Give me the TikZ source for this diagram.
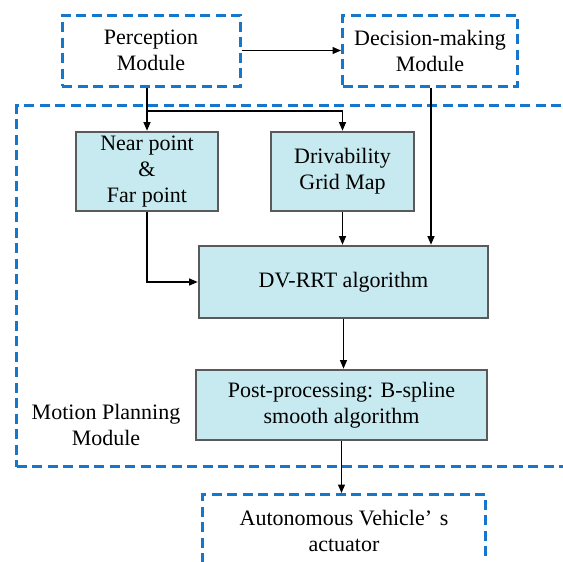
\documentclass[tikz,border=0pt]{standalone}
\usepackage{fontspec}
\setmainfont{Liberation Serif}
\usetikzlibrary{arrows.meta}
\definecolor{dashblue}{RGB}{22,118,204}
\definecolor{boxfill}{RGB}{199,234,240}
\definecolor{boxedge}{RGB}{90,90,90}
\begin{document}
\begin{tikzpicture}[x=1pt,y=-1pt,
  font=\fontsize{22}{26}\selectfont,
  procbox/.style={draw=boxedge, line width=2.7pt, fill=boxfill, align=center, inner sep=0pt},
  extbox/.style={draw=dashblue, line width=3pt, dash pattern=on 10pt off 5.5pt, align=center, inner sep=0pt},
  arr/.style={draw=black, line width=1.1pt, -{Triangle[length=8.5pt,width=7pt]}},
  link/.style={draw=black, line width=1.1pt}]
\useasboundingbox (0,0) rectangle (563,562);

% outer module frames (dashed)
\node[extbox, minimum width=178pt, minimum height=71pt] (perception) at (151,50.5) {Perception\\Module};
\node[extbox, minimum width=175pt, minimum height=71pt] (decision) at (430,50.5) {Decision-making\\Module};
\node[extbox, minimum width=580pt, minimum height=361pt, anchor=north west] (motion) at (15,104) {};
\node[extbox, minimum width=283pt, minimum height=73pt, anchor=north west] (actuator) at (201,493)
  {Autonomous Vehicle’\hspace{0.35em}s\\actuator};

% planning blocks
\node[procbox, minimum width=142pt, minimum height=79pt] (near) at (147,171.5) {Near point\\\&\\Far point};
\node[procbox, minimum width=143pt, minimum height=79pt] (drivability) at (342.5,171.5) {Drivability\\Grid Map};
\node[procbox, minimum width=289pt, minimum height=72pt] (dvrrt) at (343.5,282) {DV-RRT algorithm};
\node[procbox, minimum width=291pt, minimum height=70pt] (post) at (341.5,405) {Post-processing: B-spline\\smooth algorithm};
\node[align=center, inner sep=0pt] (mpm) at (106,425) {Motion Planning\\Module};

% connectors
\coordinate (split) at (147,111);
\draw[arr] (perception.east) -- (decision.west);
\draw[link] (perception.south -| split) -- (split);
\draw[arr] (split) -- (near.north);
\draw[arr] (split) -| (drivability.north);
\draw[arr] ([xshift=1pt]decision.south) -- ([xshift=1pt]decision.south |- dvrrt.north);
\draw[arr] (drivability.south) -- (drivability.south |- dvrrt.north);
\draw[arr] (near.south) |- (dvrrt.west);
\draw[arr] (dvrrt.south) -- (dvrrt.south |- post.north);
\draw[arr] (post.south) -- (post.south |- actuator.north);
\end{tikzpicture}
\end{document}
